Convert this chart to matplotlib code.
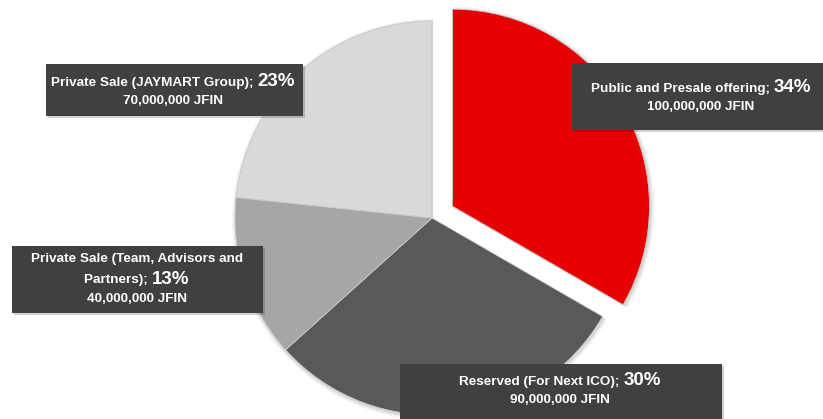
import matplotlib.pyplot as plt
import matplotlib.patches as patches
from matplotlib.offsetbox import TextArea, HPacker, VPacker, AnnotationBbox

# allocation data
labels = ["Public and Presale offering", "Reserved (For Next ICO)",
          "Private Sale (Team, Advisors and\nPartners)", "Private Sale (JAYMART Group)"]
tokens = [100000000, 90000000, 40000000, 70000000]
pct_labels = ["34%", "30%", "13%", "23%"]
colors = ["#E60000", "#595959", "#A6A6A6", "#D9D9D9"]
explode_frac = [0.12, 0, 0, 0]

W, H = 823, 419
fig = plt.figure(figsize=(W / 100, H / 100), dpi=100)
ax = fig.add_axes([0, 0, 1, 1])

cx, cy, r = 432, H - 218, 197
# pie explode is in data units, so scale by the radius
wedges, _ = ax.pie(tokens, colors=colors, explode=[e * r for e in explode_frac],
                   startangle=90, counterclock=False, center=(cx, cy), radius=r,
                   wedgeprops=dict(edgecolor="#C8C8C8", linewidth=0.6))
for w in wedges:
    w.set_zorder(2)
    # faint soft shadow under each slice
    for k, a in [(4, 0.04), (2.5, 0.05), (1.2, 0.07)]:
        sh = patches.Wedge((w.center[0] + 1, w.center[1] - 1.5), w.r + k,
                           w.theta1, w.theta2, facecolor="black", alpha=a,
                           edgecolor="none", zorder=1)
        ax.add_patch(sh)

ax.set_xlim(0, W)
ax.set_ylim(0, H)
ax.set_aspect("equal")
ax.axis("off")

# label boxes: (x0, y0_top, x1, y1_bottom) in pixels from top-left, text centre
boxes = [(572, 63, 830, 130, 701, 96),
         (400, 364, 722, 425, 560, 389),
         (12, 246, 263, 313, 137, 279),
         (46, 64, 303, 116, 173, 90)]

font = "Liberation Sans"
for i in range(len(tokens)):
    x0, y0, x1, y1, tx, ty = boxes[i]
    # soft shadow then box
    ax.add_patch(patches.Rectangle((x0 + 2, H - y1 - 2), x1 - x0, y1 - y0,
                                   facecolor="#000000", alpha=0.18, edgecolor="none", zorder=3))
    ax.add_patch(patches.Rectangle((x0, H - y1), x1 - x0, y1 - y0,
                                   facecolor="#404040", edgecolor="none", zorder=4))
    lines = labels[i].split("\n")
    tp = dict(color="white", fontweight="bold", fontsize=9.7, family=font)
    rows = []
    for ln in lines[:-1]:
        rows.append(TextArea(ln, textprops=tp))
    last = HPacker(children=[TextArea(lines[-1] + "; ", textprops=tp),
                             TextArea(pct_labels[i], textprops=dict(tp, fontsize=13.5))],
                   align="baseline", pad=0, sep=0)
    rows.append(last)
    rows.append(TextArea(f"{tokens[i]:,} JFIN", textprops=tp))
    pack = VPacker(children=rows, align="center", pad=0, sep=4)
    ab = AnnotationBbox(pack, (tx, H - ty), frameon=False, box_alignment=(0.5, 0.5), zorder=5)
    ax.add_artist(ab)

plt.savefig("out.png", dpi=100)
